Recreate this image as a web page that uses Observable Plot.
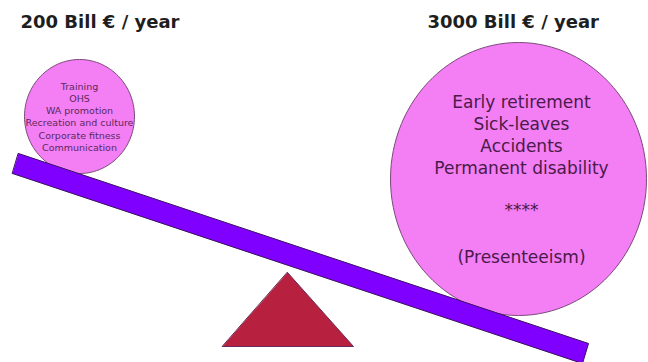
<!DOCTYPE html>
<html>
<head>
<meta charset="utf-8">
<script src="https://cdn.jsdelivr.net/npm/d3@7"></script>
<script src="https://cdn.jsdelivr.net/npm/@observablehq/plot@0.6"></script>
<style>
html, body { margin: 0; padding: 0; background: #fff; }
#chart svg { display: block; }
</style>
</head>
<body>
<div id="chart"></div>
<script>
// ---- Data (diagram coordinates, y grows downward) ----
const titles = ["200 Bill € / year", "3000 Bill € / year"];
const titleX = [20, 427];
const titleY = [21.5, 21.5];

// circles: center x, center y, radius x, radius y
const circleCx = [79, 518];
const circleCy = [116, 178.5];
const circleRx = [55, 128];
const circleRy = [57, 136.5];

const leftLabels = ["Training", "OHS", "WA promotion", "Recreation and culture", "Corporate fitness", "Communication"];
const leftLabelY = [86, 98, 110, 122, 135, 147];
const leftLabelX = 79;

const rightLabels = ["Early retirement", "Sick-leaves", "Accidents", "Permanent disability", "****", "(Presenteeism)"];
const rightLabelY = [102, 124, 146, 168, 210, 257];
const rightLabelX = 521;

// beam (lever) corners
const beamX = [18, 588, 582, 12];
const beamY = [153, 343, 363, 173];

// fulcrum triangle
const fulcrumX = [287, 353, 222];
const fulcrumY = [272, 346, 346];

// ---- Build tables ----
const angles = d3.range(0, 360, 3);
const ellipses = circleCx.flatMap((cx, i) =>
  angles.map(a => ({
    id: i,
    x: cx + circleRx[i] * Math.cos(a * Math.PI / 180),
    y: circleCy[i] + circleRy[i] * Math.sin(a * Math.PI / 180)
  }))
);
const beam = beamX.map((x, i) => ({x, y: beamY[i]}));
const fulcrum = fulcrumX.map((x, i) => ({x, y: fulcrumY[i]}));
const titleData = titles.map((t, i) => ({t, x: titleX[i], y: titleY[i]}));
const leftData = leftLabels.map((t, i) => ({t, x: leftLabelX, y: leftLabelY[i]}));
const rightData = rightLabels.map((t, i) => ({t, x: rightLabelX, y: rightLabelY[i]}));

const chart = Plot.plot({
  width: 648,
  height: 362,
  margin: 0,
  x: {domain: [0, 648], range: [0, 648], axis: null},
  y: {domain: [0, 362], range: [0, 362], axis: null},
  style: {fontFamily: "DejaVu Sans, Verdana, sans-serif", background: "#fff"},
  marks: [
    Plot.line(ellipses, {x: "x", y: "y", z: "id", curve: "linear-closed",
      fill: "#f47ef4", stroke: "#7a4a7a", strokeWidth: 1}),
    Plot.line(beam, {x: "x", y: "y", curve: "linear-closed",
      fill: "#8000ff", stroke: "#3a1060", strokeWidth: 1}),
    Plot.line(fulcrum, {x: "x", y: "y", curve: "linear-closed",
      fill: "#b8203f", stroke: "#6a2a5a", strokeWidth: 1}),
    Plot.text(titleData, {x: "x", y: "y", text: "t", textAnchor: "start",
      fontSize: 18, fontWeight: "bold", fill: "#1e1e1e"}),
    Plot.text(leftData, {x: "x", y: "y", text: "t", fontSize: 9.5, fill: "#5a2a5a"}),
    Plot.text(rightData, {x: "x", y: "y", text: "t", fontSize: 17, fill: "#4a1a4a"})
  ]
});
document.getElementById("chart").appendChild(chart);
</script>
</body>
</html>
